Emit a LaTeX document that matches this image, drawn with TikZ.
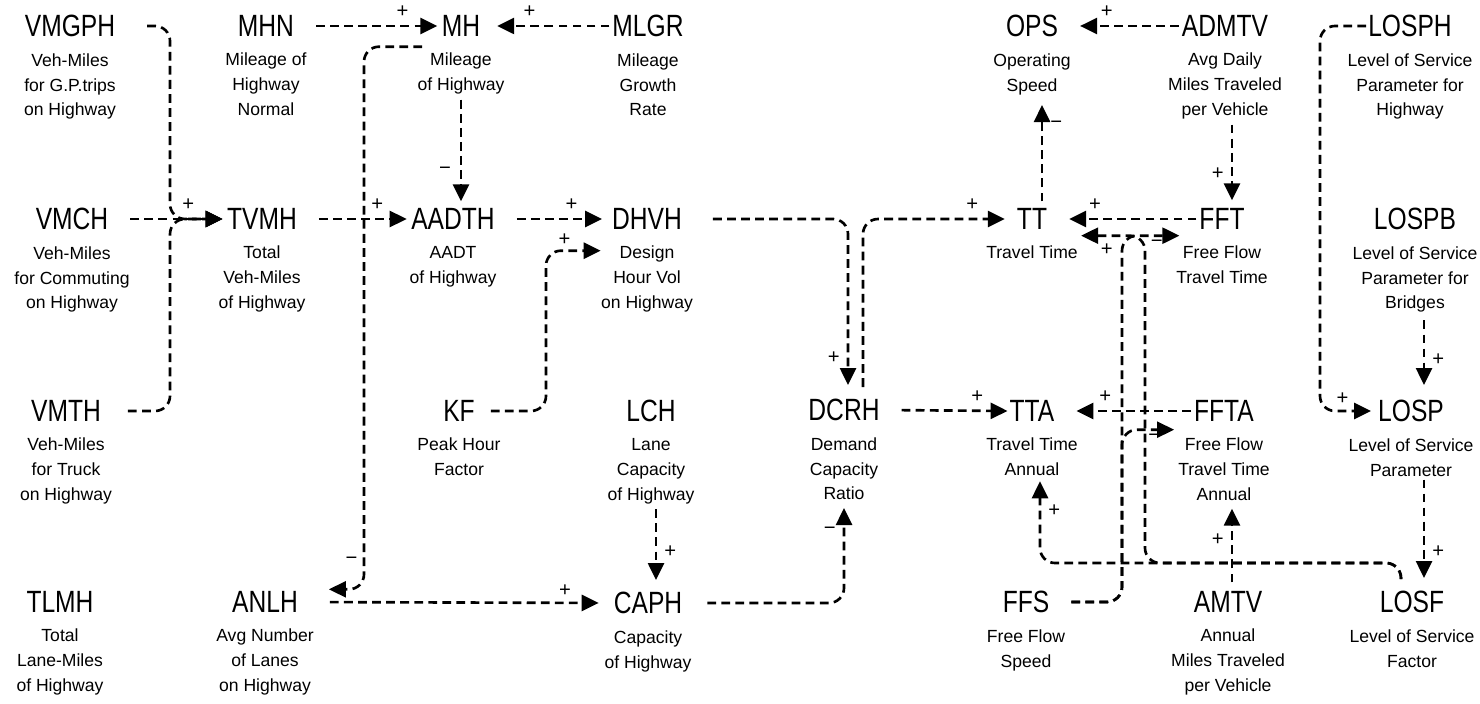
\documentclass[tikz,border=0pt]{standalone}
\usepackage{fontspec}
\setmainfont{Liberation Sans}
\newfontfamily\acrfont[FakeStretch=0.8]{Liberation Sans}
\usetikzlibrary{arrows.meta,positioning}
\tikzset{
  var/.style={font=\acrfont\fontsize{17.5}{17.5}\selectfont,inner sep=1pt},
  desc/.style={font=\fontsize{10}{14.2}\selectfont,align=center,inner sep=0pt,
               below=2.8mm of #1},
  link/.style={-{Triangle[length=3.4mm,width=3.2mm]},line width=1.5pt,
               dash pattern=on 5pt off 3pt,rounded corners=3mm,
               shorten <=4mm,shorten >=0.5mm},
  back/.style={shorten <=0.5pt,shorten >=4mm},
  sgn/.style={font=\fontsize{11.5}{11.5}\selectfont,inner sep=1pt}}

\begin{document}
\begin{tikzpicture}[x=0.2mm,y=-0.2mm]
  \useasboundingbox (0,0) rectangle (1480,704);
  % variables, row by row
  \node[var] (vmgph) at (70,26){VMGPH};\node[desc=vmgph] (vmgph-d){Veh-Miles\\for G.P.trips\\on Highway};
  \node[var] (mhn) at (266,26){MHN};\node[desc=mhn] (mhn-d){Mileage of\\Highway\\Normal};
  \node[var] (mh) at (461,26){MH};\node[desc=mh] (mh-d){Mileage\\of Highway};
  \node[var] (mlgr) at (648,26){MLGR};\node[desc=mlgr] (mlgr-d){Mileage\\Growth\\Rate};
  \node[var] (ops) at (1032,26){OPS};\node[desc=ops] (ops-d){Operating\\Speed};
  \node[var] (admtv) at (1225,26){ADMTV};\node[desc=admtv] (admtv-d){Avg Daily\\Miles Traveled\\per Vehicle};
  \node[var] (losph) at (1410,26){LOSPH};\node[desc=losph] (losph-d){Level of Service\\Parameter for\\Highway};

  \node[var] (vmch) at (72,219){VMCH};\node[desc=vmch] (vmch-d){Veh-Miles\\for Commuting\\on Highway};
  \node[var] (tvmh) at (262,219){TVMH};\node[desc=tvmh] (tvmh-d){Total\\Veh-Miles\\of Highway};
  \node[var] (aadth) at (453,219){AADTH};\node[desc=aadth] (aadth-d){AADT\\of Highway};
  \node[var] (dhvh) at (647,219){DHVH};\node[desc=dhvh] (dhvh-d){Design\\Hour Vol\\on Highway};
  \node[var] (tt) at (1032,219){TT};\node[desc=tt] (tt-d){Travel Time};
  \node[var] (fft) at (1222,219){FFT};\node[desc=fft] (fft-d){Free Flow\\Travel Time};
  \node[var] (lospb) at (1415,219){LOSPB};\node[desc=lospb] (lospb-d){Level of Service\\Parameter for\\Bridges};

  \node[var] (vmth) at (66,411){VMTH};\node[desc=vmth] (vmth-d){Veh-Miles\\for Truck\\on Highway};
  \node[var] (kf) at (459,411){KF};\node[desc=kf] (kf-d){Peak Hour\\Factor};
  \node[var] (lch) at (651,411){LCH};\node[desc=lch] (lch-d){Lane\\Capacity\\of Highway};
  \node[var] (dcrh) at (844,410){DCRH};\node[desc=dcrh] (dcrh-d){Demand\\Capacity\\Ratio};
  \node[var] (tta) at (1032,411){TTA};\node[desc=tta] (tta-d){Travel Time\\Annual};
  \node[var] (ffta) at (1224,411){FFTA};\node[desc=ffta] (ffta-d){Free Flow\\Travel Time\\Annual};
  \node[var] (losp) at (1411,411){LOSP};\node[desc=losp] (losp-d){Level of Service\\Parameter};

  \node[var] (tlmh) at (60,602){TLMH};\node[desc=tlmh] (tlmh-d){Total\\Lane-Miles\\of Highway};
  \node[var] (anlh) at (265,602){ANLH};\node[desc=anlh] (anlh-d){Avg Number\\of Lanes\\on Highway};
  \node[var] (caph) at (648,603){CAPH};\node[desc=caph] (caph-d){Capacity\\of Highway};
  \node[var] (ffs) at (1026,602){FFS};\node[desc=ffs] (ffs-d){Free Flow\\Speed};
  \node[var] (amtv) at (1228,602){AMTV};\node[desc=amtv] (amtv-d){Annual\\Miles Traveled\\per Vehicle};
  \node[var] (losf) at (1412,602){LOSF};\node[desc=losf] (losf-d){Level of Service\\Factor};

  % bend points
  \coordinate (vmbus) at (170,219);
  \coordinate (mhdrop) at (364,300);
  \coordinate (kfrise) at (546,330);
  \coordinate (ffsrise) at (1122,500);
  \coordinate (losbus) at (1145,563);
  \coordinate (losturn) at (1040,563);
  \coordinate (losdrop) at (1320,200);
  \coordinate (lchx) at ([xshift=1mm]lch-d.south);
  \coordinate (admx) at ([xshift=1.4mm]admtv-d.south);
  \coordinate (amtx) at ([xshift=0.8mm]amtv.north);
  \coordinate (lospbx) at ([xshift=1.8mm]lospb-d.south);
  \coordinate (lospx) at ([xshift=2.6mm]losp-d.south);
  \coordinate (losx) at ([shift={(-2.2mm,2mm)}]losf.north);

  % vehicle miles and mileage
  \draw[link,shorten <=6mm] (vmgph.east) -| (vmbus) -- (tvmh.west);
  \draw[link,shorten <=5mm] (vmth.east) -| (vmbus) -- (tvmh.west);
  \draw[link] (vmch.east) -- node[sgn,above=3pt,pos=0.68]{+} (tvmh.west);
  \draw[link] (mhn.east) -- node[sgn,above=3pt,pos=0.74]{+} (mh.west);
  \draw[link,back,shorten >=3mm] (mlgr.west) -- node[sgn,above=3pt,pos=0.63]{+} (mh.east);
  \draw[link,shorten <=1mm,shorten >=1mm] (mh-d.south) -- node[sgn,left=4pt,pos=0.68]{−} (mh-d.south |- aadth.north);
  \draw[link,shorten <=0pt,shorten >=5.8mm] ([shift={(1mm,1.2mm)}]mh-d.north west) -| (mhdrop)
    |- node[sgn,left=2pt,pos=0.45]{−} (anlh.north east);
  \draw[link] (tvmh.east) -- node[sgn,above=3pt,pos=0.71]{+} (aadth.west);
  \draw[link,shorten >=1.6mm] (aadth.east) -- node[sgn,above=3pt,pos=0.66]{+} (dhvh.west);
  \draw[link,shorten <=2.8mm,shorten >=0pt] (kf.east) -| (kfrise)
    |- node[sgn,above=1pt,pos=0.67]{+} ([yshift=-1mm]dhvh-d.north west);

  % lanes and capacity
  \draw[link,shorten <=6mm,shorten >=2.6mm] (anlh.east) -- node[sgn,above=2pt,pos=0.85]{+} (caph.west);
  \draw[link,shorten <=1mm,shorten >=2mm] (lchx) -- node[sgn,right=3pt,pos=0.55]{+} (lchx |- caph.north);
  \draw[link,shorten <=4.6mm,shorten >=1.5mm] (caph.east) -| node[sgn,left=3pt,pos=0.85]{−} (dcrh-d.south);
  \draw[link,shorten <=5.8mm,shorten >=2.4mm] (dhvh.east) -| node[sgn,left=3pt,pos=0.89]{+} ([xshift=0.8mm]dcrh.north);
  \draw[link,shorten <=2mm,shorten >=2mm] ([xshift=3.8mm]dcrh.north) |- node[sgn,above=3pt,pos=0.86]{+} (tt.west);
  \draw[link,shorten >=0pt] (dcrh.east) -- node[sgn,above=3pt,pos=0.76]{+} (tta.west);

  % travel times
  \draw[link,shorten <=1mm,shorten >=2mm] ([xshift=2mm]tt.north) -- node[sgn,right=3pt,pos=0.73]{−} ([xshift=2mm]ops-d.south);
  \draw[link,back] (admtv.west) -- node[sgn,above=3pt,pos=0.61]{+} (ops.east);
  \draw[link,shorten <=1mm,shorten >=1.2mm] (admx) -- node[sgn,left=3pt,pos=0.62]{+} (admx |- fft.north);
  \draw[link,back] (fft.west) -- node[sgn,above=3pt,pos=0.69]{+} (tt.east);
  \draw[link,shorten >=3.6mm] (ffs.east) -| (ffsrise) |- node[sgn,below=1pt,pos=0.73]{−} ([yshift=-0.8mm]fft.south west);
  \draw[link,shorten >=3.6mm] (ffs.east) -| (ffsrise) |- node[sgn,below=1pt,pos=0.73]{−} ([yshift=-1.2mm]ffta.south west);
  \draw[link,shorten <=0pt,shorten >=6.4mm] (losx) |- (losbus) |- node[sgn,below=3pt,pos=0.7]{+} ([yshift=-0.8mm]tt.south east);
  \draw[link,shorten <=0pt,shorten >=1mm] (losx) |- (losturn) -- node[sgn,right=3pt,pos=0.6]{+} (losturn |- tta-d.south);
  \draw[link,back] (ffta.west) -- node[sgn,above=3pt,pos=0.64]{+} (tta.east);
  \draw[link,shorten <=1.4mm,shorten >=1.5mm] (amtx) -- node[sgn,left=3pt,pos=0.56]{+} (amtx |- ffta-d.south);

  % level of service
  \draw[link,shorten <=0pt,shorten >=1mm] (losph.west) -| (losdrop) |- node[sgn,above=2pt,pos=0.7]{+} (losp.west);
  \draw[link,shorten <=1.5mm,shorten >=2.6mm] (lospbx) -- node[sgn,right=3pt,pos=0.55]{+} (lospbx |- losp.north);
  \draw[link,shorten <=0.6mm,shorten >=2.2mm] (lospx) -- node[sgn,right=3pt,pos=0.67]{+} (lospx |- losf.north);
\end{tikzpicture}
\end{document}
